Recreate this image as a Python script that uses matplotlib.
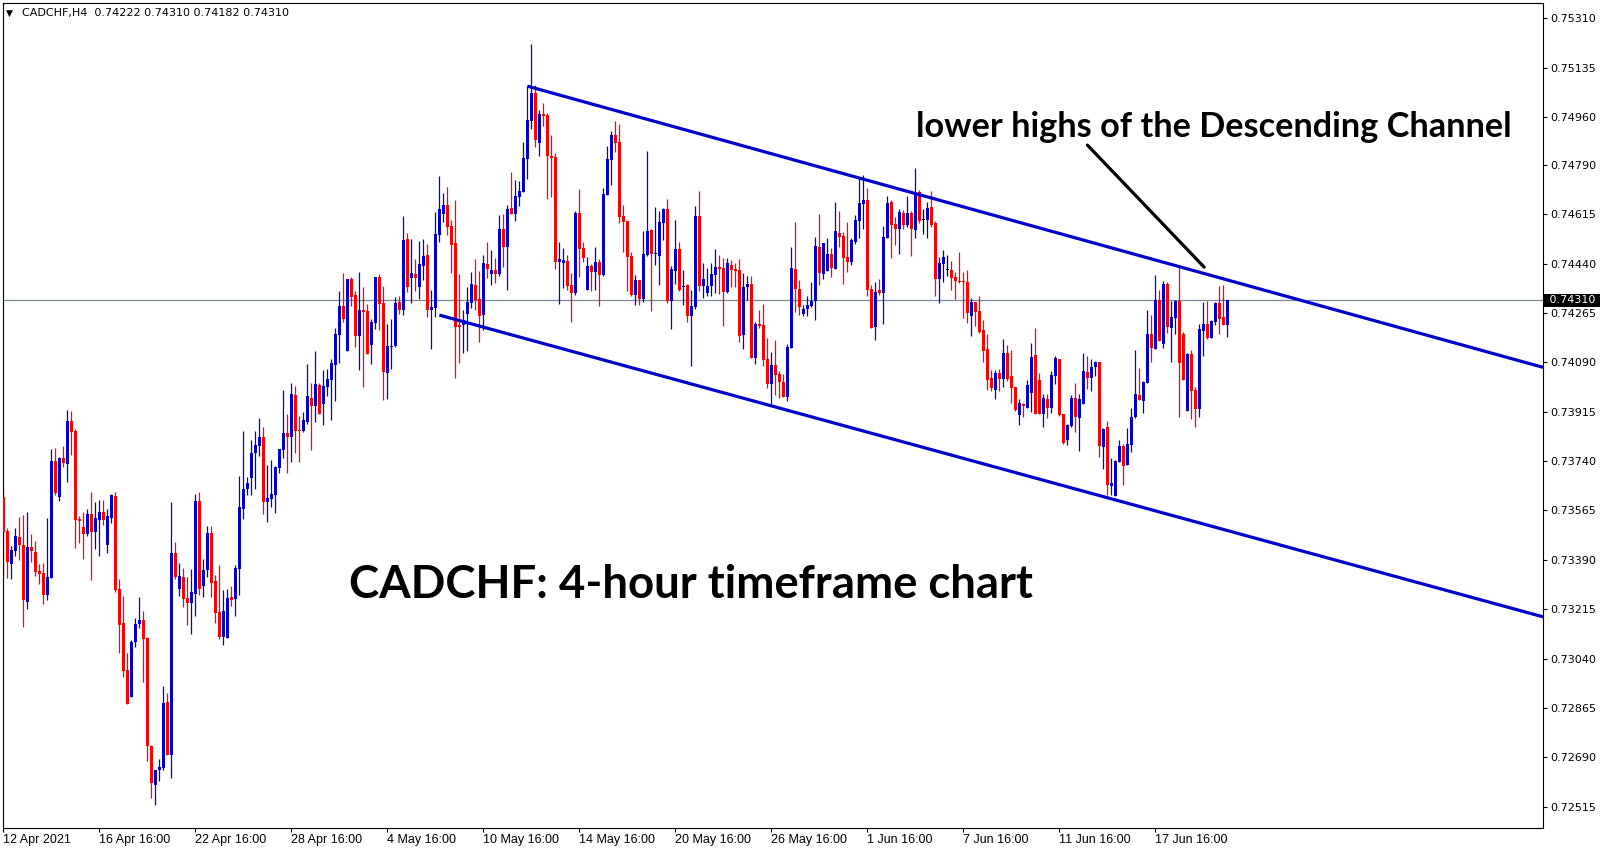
import numpy as np
import matplotlib.pyplot as plt
from matplotlib import transforms

# CADCHF H4 candles (12 Apr - 21 Jun 2021)
opens = [
    0.73612, 0.73493, 0.73377, 0.73423, 0.73471, 0.73443, 0.73242, 0.73436, 0.73418, 0.73351,
    0.73344, 0.73266, 0.73326, 0.73741, 0.73614, 0.73751, 0.73731, 0.73883, 0.73847, 0.73536,
    0.73507, 0.73483, 0.73553, 0.73490, 0.73532, 0.73560, 0.73441, 0.73540, 0.73617, 0.73287,
    0.73166, 0.73000, 0.72905, 0.73100, 0.73163, 0.73177, 0.73114, 0.72731, 0.72593, 0.72643,
    0.72653, 0.72887, 0.72699, 0.73415, 0.73287, 0.73329, 0.73255, 0.73237, 0.73269, 0.73599,
    0.73298, 0.73354, 0.73484, 0.73315, 0.73206, 0.73115, 0.73114, 0.73258, 0.73252, 0.73359,
    0.73571, 0.73640, 0.73680, 0.73768, 0.73795, 0.73825, 0.73596, 0.73607, 0.73620, 0.73717,
    0.73779, 0.73840, 0.73827, 0.73974, 0.73850, 0.73847, 0.73879, 0.73964, 0.73937, 0.74010,
    0.73944, 0.74004, 0.74029, 0.74082, 0.74188, 0.74291, 0.74132, 0.74386, 0.74330, 0.74185,
    0.74276, 0.74273, 0.74153, 0.74231, 0.74393, 0.74302, 0.74054, 0.74146, 0.74149, 0.74305,
    0.74276, 0.74528, 0.74391, 0.74404, 0.74359, 0.74433, 0.74471, 0.74276, 0.74283, 0.74542,
    0.74617, 0.74648, 0.74574, 0.74514, 0.74224, 0.74224, 0.74262, 0.74302, 0.74365, 0.74315,
    0.74258, 0.74439, 0.74405, 0.74418, 0.74405, 0.74563, 0.74500, 0.74638, 0.74617, 0.74677,
    0.74695, 0.74813, 0.74947, 0.75046, 0.74869, 0.74971, 0.74968, 0.74823, 0.74819, 0.74448,
    0.74444, 0.74450, 0.74365, 0.74336, 0.74621, 0.74496, 0.74347, 0.74432, 0.74411, 0.74446,
    0.74400, 0.74684, 0.74808, 0.74897, 0.74872, 0.74610, 0.74592, 0.74468, 0.74330, 0.74383,
    0.74315, 0.74471, 0.74560, 0.74476, 0.74469, 0.74586, 0.74636, 0.74309, 0.74416, 0.74493,
    0.74356, 0.74365, 0.74253, 0.74287, 0.74610, 0.74361, 0.74337, 0.74361, 0.74400, 0.74429,
    0.74425, 0.74341, 0.74436, 0.74422, 0.74418, 0.74188, 0.74356, 0.74370, 0.74107, 0.74227,
    0.74223, 0.74103, 0.74014, 0.74081, 0.74049, 0.74021, 0.73969, 0.74143, 0.74422, 0.74351,
    0.74263, 0.74281, 0.74290, 0.74309, 0.74500, 0.74405, 0.74416, 0.74475, 0.74423, 0.74549,
    0.74538, 0.74464, 0.74448, 0.74517, 0.74593, 0.74652, 0.74666, 0.74351, 0.74217, 0.74346,
    0.74338, 0.74533, 0.74659, 0.74581, 0.74563, 0.74620, 0.74577, 0.74620, 0.74561, 0.74695,
    0.74595, 0.74595, 0.74641, 0.74585, 0.74387, 0.74440, 0.74418, 0.74418, 0.74393, 0.74380,
    0.74379, 0.74375, 0.74256, 0.74304, 0.74272, 0.74205, 0.74138, 0.74035, 0.73992, 0.74052,
    0.74032, 0.74123, 0.74042, 0.74003, 0.73903, 0.73944, 0.73929, 0.73983, 0.74116, 0.74028,
    0.73908, 0.73961, 0.73929, 0.74042, 0.74102, 0.73908, 0.73815, 0.73864, 0.73964, 0.73894,
    0.73944, 0.74056, 0.74036, 0.74074, 0.74091, 0.73791, 0.73861, 0.73653, 0.73617, 0.73738,
    0.73794, 0.73725, 0.73798, 0.73898, 0.73976, 0.73954, 0.74018, 0.74191, 0.74139, 0.74311,
    0.74155, 0.74369, 0.74212, 0.74249, 0.74309, 0.74192, 0.73919, 0.74119, 0.73992, 0.73925,
    0.74202, 0.74226, 0.74178, 0.74234, 0.74301, 0.74252, 0.74222,
]
highs = [
    0.73647, 0.73502, 0.73439, 0.73503, 0.73543, 0.73549, 0.73560, 0.73482, 0.73456, 0.73376,
    0.73379, 0.73539, 0.73783, 0.73787, 0.73755, 0.73794, 0.73922, 0.73918, 0.73854, 0.73546,
    0.73560, 0.73571, 0.73631, 0.73595, 0.73602, 0.73602, 0.73571, 0.73624, 0.73631, 0.73322,
    0.73262, 0.73060, 0.73104, 0.73184, 0.73259, 0.73209, 0.73118, 0.72735, 0.72645, 0.72685,
    0.72941, 0.72916, 0.73595, 0.73454, 0.73380, 0.73361, 0.73329, 0.73358, 0.73624, 0.73631,
    0.73393, 0.73510, 0.73510, 0.73336, 0.73372, 0.73283, 0.73285, 0.73297, 0.73372, 0.73687,
    0.73847, 0.73685, 0.73815, 0.73847, 0.73893, 0.73861, 0.73726, 0.73744, 0.73723, 0.73783,
    0.73992, 0.73907, 0.74017, 0.74006, 0.73900, 0.73914, 0.74084, 0.74017, 0.74130, 0.74017,
    0.74063, 0.74067, 0.74102, 0.74212, 0.74343, 0.74407, 0.74386, 0.74393, 0.74343, 0.74411,
    0.74357, 0.74299, 0.74244, 0.74393, 0.74403, 0.74361, 0.74226, 0.74244, 0.74322, 0.74325,
    0.74609, 0.74549, 0.74528, 0.74457, 0.74521, 0.74528, 0.74510, 0.74347, 0.74624, 0.74751,
    0.74691, 0.74712, 0.74595, 0.74666, 0.74404, 0.74276, 0.74358, 0.74411, 0.74457, 0.74413,
    0.74471, 0.74517, 0.74489, 0.74461, 0.74613, 0.74617, 0.74648, 0.74765, 0.74737, 0.74734,
    0.74872, 0.75070, 0.75219, 0.75074, 0.74985, 0.75010, 0.74975, 0.74897, 0.74833, 0.74517,
    0.74496, 0.74471, 0.74407, 0.74627, 0.74706, 0.74517, 0.74463, 0.74439, 0.74500, 0.74457,
    0.74709, 0.74858, 0.74911, 0.74947, 0.74936, 0.74649, 0.74592, 0.74482, 0.74400, 0.74383,
    0.74556, 0.74840, 0.74565, 0.74642, 0.74627, 0.74639, 0.74670, 0.74432, 0.74595, 0.74517,
    0.74418, 0.74369, 0.74348, 0.74645, 0.74698, 0.74443, 0.74425, 0.74443, 0.74493, 0.74471,
    0.74461, 0.74460, 0.74454, 0.74442, 0.74457, 0.74408, 0.74395, 0.74397, 0.74234, 0.74276,
    0.74298, 0.74175, 0.74127, 0.74170, 0.74060, 0.74049, 0.74157, 0.74500, 0.74588, 0.74383,
    0.74294, 0.74326, 0.74375, 0.74535, 0.74617, 0.74514, 0.74532, 0.74496, 0.74659, 0.74627,
    0.74553, 0.74588, 0.74531, 0.74613, 0.74741, 0.74755, 0.74709, 0.74365, 0.74377, 0.74386,
    0.74574, 0.74680, 0.74666, 0.74606, 0.74634, 0.74631, 0.74680, 0.74627, 0.74780, 0.74702,
    0.74634, 0.74659, 0.74698, 0.74592, 0.74464, 0.74489, 0.74471, 0.74450, 0.74411, 0.74483,
    0.74411, 0.74418, 0.74318, 0.74304, 0.74327, 0.74242, 0.74192, 0.74063, 0.74063, 0.74066,
    0.74173, 0.74153, 0.74134, 0.74003, 0.73961, 0.73947, 0.74028, 0.74159, 0.74212, 0.74054,
    0.73979, 0.73978, 0.74061, 0.74113, 0.74102, 0.73908, 0.73873, 0.73974, 0.74018, 0.73979,
    0.74123, 0.74113, 0.74102, 0.74096, 0.74091, 0.73857, 0.73882, 0.73752, 0.73744, 0.73815,
    0.73801, 0.73857, 0.73929, 0.74134, 0.74070, 0.74024, 0.74277, 0.74259, 0.74401, 0.74347,
    0.74380, 0.74375, 0.74308, 0.74311, 0.74435, 0.74198, 0.74124, 0.74134, 0.74004, 0.74228,
    0.74305, 0.74308, 0.74240, 0.74305, 0.74361, 0.74364, 0.74310,
]
lows = [
    0.73337, 0.73327, 0.73322, 0.73405, 0.73390, 0.73153, 0.73214, 0.73384, 0.73333, 0.73305,
    0.73235, 0.73246, 0.73326, 0.73620, 0.73600, 0.73721, 0.73667, 0.73763, 0.73433, 0.73451,
    0.73394, 0.73476, 0.73320, 0.73430, 0.73405, 0.73515, 0.73416, 0.73519, 0.73276, 0.73061,
    0.72976, 0.72877, 0.72905, 0.73082, 0.73149, 0.72958, 0.72675, 0.72547, 0.72522, 0.72607,
    0.72646, 0.72699, 0.72618, 0.73322, 0.73263, 0.73223, 0.73159, 0.73127, 0.73191, 0.73266,
    0.73259, 0.73329, 0.73259, 0.73167, 0.73108, 0.73088, 0.73114, 0.73227, 0.73191, 0.73266,
    0.73536, 0.73620, 0.73620, 0.73640, 0.73758, 0.73554, 0.73525, 0.73578, 0.73557, 0.73697,
    0.73750, 0.73699, 0.73738, 0.73770, 0.73738, 0.73844, 0.73872, 0.73779, 0.73879, 0.73908,
    0.73868, 0.73971, 0.73886, 0.73954, 0.74089, 0.74234, 0.74132, 0.74291, 0.74146, 0.74064,
    0.74004, 0.74121, 0.74085, 0.74210, 0.74206, 0.73958, 0.73961, 0.74068, 0.74146, 0.74263,
    0.74258, 0.74341, 0.74302, 0.74345, 0.74316, 0.74384, 0.74252, 0.74139, 0.74252, 0.74517,
    0.74588, 0.74542, 0.74407, 0.74036, 0.74089, 0.74125, 0.74132, 0.74284, 0.74277, 0.74164,
    0.74205, 0.74388, 0.74364, 0.74373, 0.74397, 0.74429, 0.74348, 0.74617, 0.74592, 0.74645,
    0.74695, 0.74742, 0.74919, 0.74855, 0.74822, 0.74929, 0.74671, 0.74678, 0.74421, 0.74297,
    0.74354, 0.74347, 0.74234, 0.74329, 0.74393, 0.74446, 0.74347, 0.74343, 0.74347, 0.74290,
    0.74397, 0.74684, 0.74720, 0.74838, 0.74586, 0.74482, 0.74345, 0.74324, 0.74295, 0.74295,
    0.74305, 0.74468, 0.74274, 0.74434, 0.74366, 0.74525, 0.74302, 0.74210, 0.74369, 0.74345,
    0.74295, 0.74235, 0.74079, 0.74281, 0.74344, 0.74317, 0.74324, 0.74324, 0.74335, 0.74333,
    0.74220, 0.74338, 0.74357, 0.74357, 0.74164, 0.74136, 0.74312, 0.74107, 0.74086, 0.74213,
    0.74079, 0.73999, 0.73942, 0.73973, 0.73963, 0.73969, 0.73955, 0.74143, 0.74270, 0.74260,
    0.74253, 0.74253, 0.74288, 0.74241, 0.74366, 0.74387, 0.74416, 0.74394, 0.74423, 0.74501,
    0.74370, 0.74412, 0.74437, 0.74511, 0.74533, 0.74565, 0.74327, 0.74213, 0.74171, 0.74330,
    0.74228, 0.74533, 0.74462, 0.74507, 0.74476, 0.74565, 0.74570, 0.74469, 0.74533, 0.74586,
    0.74547, 0.74533, 0.74571, 0.74327, 0.74302, 0.74377, 0.74396, 0.74348, 0.74316, 0.74373,
    0.74249, 0.74231, 0.74185, 0.74220, 0.74196, 0.74093, 0.73993, 0.73990, 0.73961, 0.73990,
    0.74004, 0.74025, 0.73947, 0.73919, 0.73868, 0.73898, 0.73929, 0.73915, 0.73908, 0.73907,
    0.73861, 0.73894, 0.73912, 0.74015, 0.73901, 0.73801, 0.73797, 0.73862, 0.73843, 0.73776,
    0.73944, 0.73997, 0.73990, 0.74041, 0.73756, 0.73713, 0.73621, 0.73620, 0.73617, 0.73738,
    0.73655, 0.73725, 0.73772, 0.73894, 0.73957, 0.73911, 0.74018, 0.74093, 0.74139, 0.74167,
    0.74142, 0.74195, 0.74091, 0.74191, 0.73898, 0.74028, 0.73919, 0.73889, 0.73862, 0.73898,
    0.74114, 0.74174, 0.74178, 0.74223, 0.74191, 0.74223, 0.74182,
]
closes = [
    0.73490, 0.73384, 0.73425, 0.73475, 0.73441, 0.73246, 0.73436, 0.73422, 0.73347, 0.73341,
    0.73266, 0.73329, 0.73741, 0.73626, 0.73751, 0.73734, 0.73883, 0.73845, 0.73532, 0.73529,
    0.73483, 0.73553, 0.73490, 0.73539, 0.73560, 0.73532, 0.73546, 0.73620, 0.73283, 0.73160,
    0.72997, 0.72877, 0.73100, 0.73163, 0.73177, 0.73111, 0.72731, 0.72597, 0.72645, 0.72657,
    0.72884, 0.72699, 0.73415, 0.73329, 0.73333, 0.73251, 0.73237, 0.73276, 0.73599, 0.73287,
    0.73354, 0.73485, 0.73309, 0.73203, 0.73115, 0.73208, 0.73255, 0.73249, 0.73361, 0.73577,
    0.73643, 0.73662, 0.73770, 0.73797, 0.73825, 0.73596, 0.73610, 0.73623, 0.73719, 0.73783,
    0.73840, 0.73827, 0.73978, 0.73848, 0.73848, 0.73886, 0.73971, 0.73937, 0.74013, 0.73908,
    0.74006, 0.74031, 0.74088, 0.74191, 0.74291, 0.74245, 0.74386, 0.74323, 0.74185, 0.74277,
    0.74270, 0.74121, 0.74233, 0.74393, 0.74298, 0.74057, 0.74148, 0.74150, 0.74302, 0.74277,
    0.74524, 0.74359, 0.74407, 0.74391, 0.74439, 0.74468, 0.74276, 0.74287, 0.74546, 0.74634,
    0.74648, 0.74570, 0.74507, 0.74217, 0.74217, 0.74241, 0.74304, 0.74368, 0.74312, 0.74255,
    0.74443, 0.74421, 0.74418, 0.74405, 0.74563, 0.74500, 0.74634, 0.74617, 0.74680, 0.74698,
    0.74815, 0.74950, 0.75046, 0.74879, 0.74971, 0.74964, 0.74823, 0.74816, 0.74448, 0.74456,
    0.74453, 0.74361, 0.74336, 0.74621, 0.74492, 0.74461, 0.74432, 0.74411, 0.74446, 0.74400,
    0.74687, 0.74812, 0.74897, 0.74870, 0.74607, 0.74588, 0.74465, 0.74330, 0.74383, 0.74315,
    0.74475, 0.74556, 0.74476, 0.74478, 0.74588, 0.74636, 0.74309, 0.74422, 0.74493, 0.74348,
    0.74361, 0.74253, 0.74291, 0.74610, 0.74361, 0.74386, 0.74361, 0.74404, 0.74429, 0.74422,
    0.74341, 0.74443, 0.74418, 0.74415, 0.74184, 0.74358, 0.74370, 0.74107, 0.74227, 0.74220,
    0.74099, 0.74014, 0.74081, 0.74046, 0.74019, 0.73969, 0.74146, 0.74425, 0.74351, 0.74285,
    0.74280, 0.74294, 0.74309, 0.74503, 0.74408, 0.74514, 0.74475, 0.74426, 0.74556, 0.74535,
    0.74462, 0.74448, 0.74524, 0.74595, 0.74656, 0.74666, 0.74348, 0.74213, 0.74341, 0.74338,
    0.74535, 0.74656, 0.74579, 0.74563, 0.74624, 0.74577, 0.74620, 0.74565, 0.74691, 0.74592,
    0.74595, 0.74638, 0.74577, 0.74387, 0.74443, 0.74464, 0.74418, 0.74391, 0.74380, 0.74377,
    0.74375, 0.74264, 0.74304, 0.74270, 0.74199, 0.74132, 0.74029, 0.74000, 0.74052, 0.74032,
    0.74123, 0.74032, 0.74000, 0.73921, 0.73947, 0.73937, 0.74011, 0.74110, 0.73908, 0.73908,
    0.73964, 0.73929, 0.74045, 0.74106, 0.73905, 0.73804, 0.73868, 0.73964, 0.73898, 0.73961,
    0.74059, 0.74036, 0.74074, 0.74091, 0.73794, 0.73854, 0.73655, 0.73662, 0.73740, 0.73794,
    0.73723, 0.73801, 0.73896, 0.73979, 0.73957, 0.74020, 0.74191, 0.74141, 0.74311, 0.74167,
    0.74369, 0.74214, 0.74251, 0.74309, 0.74089, 0.74028, 0.74121, 0.73990, 0.73926, 0.74210,
    0.74226, 0.74178, 0.74237, 0.74302, 0.74245, 0.74223, 0.74310,
]

price_ticks = [0.75310, 0.75135, 0.74960, 0.74790, 0.74615, 0.74440, 0.74265, 0.74090,
               0.73915, 0.73740, 0.73565, 0.73390, 0.73215, 0.73040, 0.72865, 0.72690, 0.72515]
date_bars = [0, 24, 48, 72, 96, 120, 144, 168, 192, 216, 240, 264, 288]
date_labels = ['12 Apr 2021', '16 Apr 16:00', '22 Apr 16:00', '28 Apr 16:00', '4 May 16:00',
               '10 May 16:00', '14 May 16:00', '20 May 16:00', '26 May 16:00', '1 Jun 16:00',
               '7 Jun 16:00', '11 Jun 16:00', '17 Jun 16:00']

# channel lines: two anchor points each (bar index, price), drawn as rays to the right
upper_bars = [131, 270]
upper_prices = [0.75070, 0.74524]
lower_bars = [109, 249]
lower_prices = [0.74258, 0.73715]

# pointer line of the note (bar index, price)
note_from = (271, 0.74861)
note_to = (300.2, 0.74428)

BULL = '#0000cc'
BEAR = '#ff0000'

fig = plt.figure(figsize=(16.07, 8.5), dpi=100)
ax = fig.add_axes([2.5 / 1607, 22 / 850, 1540.5 / 1607, 825 / 850])

o = np.array(opens)
h = np.array(highs)
l = np.array(lows)
c = np.array(closes)
x = np.arange(len(o))

cols = np.where(c > o, BULL, np.where(c < o, BEAR, '#000000'))
ax.vlines(x, l, h, colors=cols, linewidth=0.9, zorder=2)
body = np.maximum(np.abs(c - o), 0.00003)
ax.bar(x, body, bottom=np.minimum(o, c), width=0.75, color=cols, linewidth=0, zorder=3)

xmax = 384.9
ax.set_xlim(-0.2, xmax)
ax.set_ylim(0.72439, 0.753648)

for bars, prices in [(upper_bars, upper_prices), (lower_bars, lower_prices)]:
    slope = (prices[1] - prices[0]) / (bars[1] - bars[0])
    ax.plot([bars[0], xmax], [prices[0], prices[0] + slope * (xmax - bars[0])],
            color=BULL, lw=2.3, solid_capstyle='butt', zorder=4)

last = closes[-1]
ax.axhline(last, color='#7a8a99', lw=0.9, zorder=1)

ax.annotate('', xy=note_to, xytext=note_from,
            arrowprops=dict(arrowstyle='-', lw=2.3, color='black', shrinkA=0, shrinkB=0))

# axes look
for s in ax.spines.values():
    s.set_color('black')
    s.set_linewidth(0.8)
ax.yaxis.tick_right()
ax.set_yticks(price_ticks)
ax.set_yticklabels(['%.5f' % p for p in price_ticks])
ax.tick_params(axis='y', direction='out', length=3, width=0.8, pad=2.5,
               labelsize=8, labelfontfamily='DejaVu Sans')
ax.set_xticks(date_bars)
ax.set_xticklabels(date_labels, ha='left')
ax.tick_params(axis='x', direction='out', length=3, width=0.8, pad=1,
               labelsize=9, labelfontfamily='Liberation Sans')

tag_tr = transforms.offset_copy(transforms.blended_transform_factory(ax.transAxes, ax.transData),
                                fig=fig, x=2.5, y=0, units='dots')
ax.text(1.0, last, ' %.5f ' % last, transform=tag_tr, ha='left', va='center', color='white',
        fontsize=8, family='DejaVu Sans', clip_on=False, zorder=10,
        bbox=dict(boxstyle='square,pad=0.12', fc='black', ec='none'))

# header
fig.text(6 / 1607, 1 - 13 / 850, '\u25bc', fontsize=6.5, va='center', family='DejaVu Sans')
fig.text(22 / 1607, 1 - 13 / 850,
         'CADCHF,H4  %.5f %.5f %.5f %.5f' % (opens[-1], highs[-1], lows[-1], closes[-1]),
         fontsize=8, va='center', family='DejaVu Sans')


def fit_width(txt, width_px):
    fig.canvas.draw()
    w = txt.get_window_extent().width
    txt.set_fontsize(txt.get_fontsize() * width_px / w)


note = fig.text(916 / 1607, 1 - 137 / 850, 'lower highs of the Descending Channel',
                fontsize=22, fontweight='bold', family='Lato', va='baseline')
fit_width(note, 596)
title = fig.text(349 / 1607, 1 - 598 / 850, 'CADCHF: 4-hour timeframe chart',
                 fontsize=36, fontweight='bold', family='Lato', va='baseline')
fit_width(title, 682)

fig.savefig('out.png', dpi=100)
